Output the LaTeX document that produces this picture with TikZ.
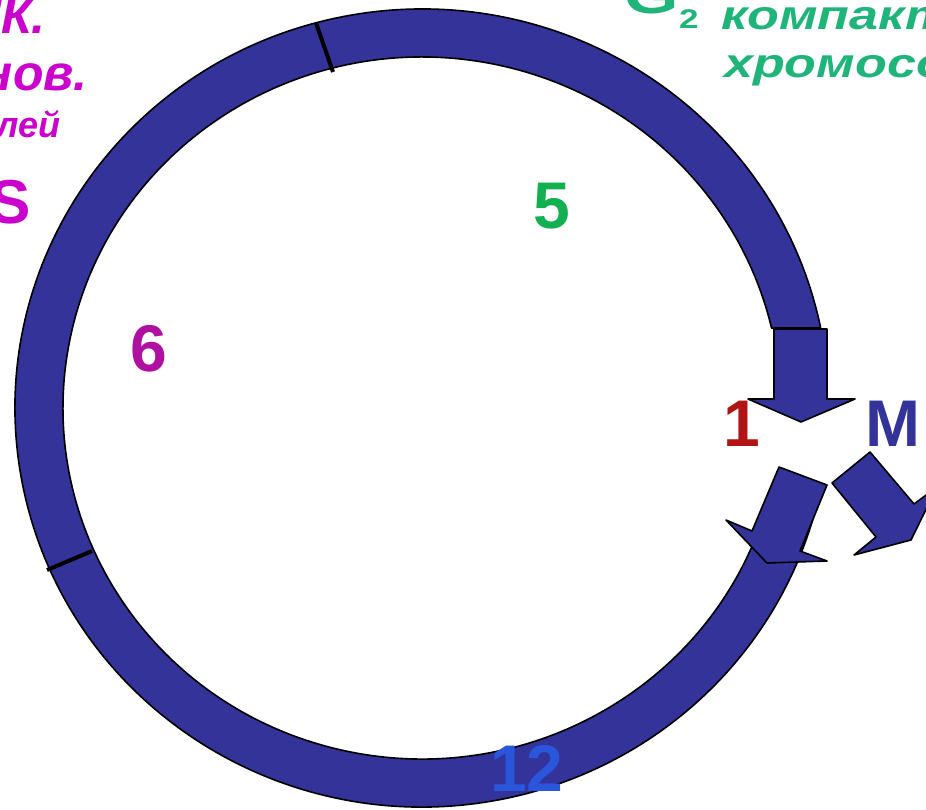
\documentclass[tikz,border=0pt]{standalone}
\usepackage{fontspec}
\usepackage{graphicx}
\setmainfont{Liberation Sans}
\definecolor{ringblue}{HTML}{333399}
\definecolor{magtext}{HTML}{CC00CC}
\definecolor{gtext}{HTML}{1FB57A}
\definecolor{fivegreen}{HTML}{12B050}
\definecolor{sixpurple}{HTML}{B010A0}
\definecolor{onered}{HTML}{B01414}
\definecolor{twelveblue}{HTML}{2A56DC}
\begin{document}
\begin{tikzpicture}[x=1pt,y=1pt,
  blockshape/.style={fill=ringblue, draw=black, line width=1.6pt, line join=round},
  tickline/.style={draw=black, line width=4pt},
  biglbl/.style={inner sep=0pt, font=\bfseries\fontsize{66}{66}\selectfont},
  magline/.style={inner sep=0pt, text=magtext, anchor=base east},
  grline/.style={inner sep=0pt, text=gtext, anchor=base west}]
\useasboundingbox (0,0) rectangle (926,-810);
\clip (0,0) rectangle (926,-810);
\fill[white] (0,0) rectangle (926,-810);

% ring
\path[blockshape] (820.7,-328)
  arc[start angle=11.57, end angle=347.4, x radius=407, y radius=399]
  -- (769.8,-495)
  arc[start angle=345.65, end angle=13.17, x radius=359, y radius=351]
  -- cycle;

% ticks
\draw[tickline] (316,-23) -- (333,-72);
\draw[tickline] (47,-570) -- (92,-551);

% arrow down
\path[blockshape] (774,-329) -- (827,-329) -- (827,-399) -- (855,-399)
  -- (801,-422) -- (748,-399) -- (774,-399) -- cycle;
% arrow down-left
\path[blockshape] (779,-467) -- (827,-485) -- (800,-551) -- (827,-561)
  -- (767,-563) -- (726,-520) -- (752,-531) -- cycle;
% arrow down-right
\path[blockshape] (832,-483) -- (870,-452) -- (914,-504) -- (937,-487)
  -- (911,-540) -- (854,-555) -- (876,-537) -- cycle;

% labels
\node[biglbl, text=fivegreen, anchor=base] (n5) at (552,-229) {5};
\node[biglbl, text=sixpurple, anchor=base] (n6) at (149,-371) {6};
\node[biglbl, text=onered, anchor=base west] (n1) at (723,-446) {1};
\node[biglbl, text=ringblue, anchor=base west] (nM) at (865,-446) {M};
\node[biglbl, text=twelveblue, anchor=base west] (n12) at (490,-791) {12};

% S phase text
\node[inner sep=0pt, text=magtext, anchor=base east, font=\bfseries\fontsize{62}{62}\selectfont] (nS) at (31,-224) {S};
\node[magline, font=\bfseries\itshape\fontsize{50}{50}\selectfont] (t1) at (46,-34) {Репликация ДНК.};
\node[magline, font=\bfseries\itshape\fontsize{50}{50}\selectfont] (t2) at (88,-91) {Синтез гистонов.};
\node[magline, font=\bfseries\itshape\fontsize{36}{36}\selectfont] (t3) at (61,-138) {Удвоение центриолей};

% G2 text
\node[grline, font=\bfseries\fontsize{50}{50}\selectfont] (tG) at (624,-14) {\scalebox{1.4}[1]{G}};
\node[grline, font=\bfseries\fontsize{27}{27}\selectfont] (tG2) at (679,-29) {\scalebox{1.3}[1]{2}};
\node[grline, font=\bfseries\itshape\fontsize{41}{41}\selectfont] (tg1) at (721,-30) {\scalebox{1.27}[1]{компактизация}};
\node[grline, font=\bfseries\itshape\fontsize{41}{41}\selectfont] (tg2) at (724,-78) {\scalebox{1.27}[1]{хромосом}};
\end{tikzpicture}
\end{document}
